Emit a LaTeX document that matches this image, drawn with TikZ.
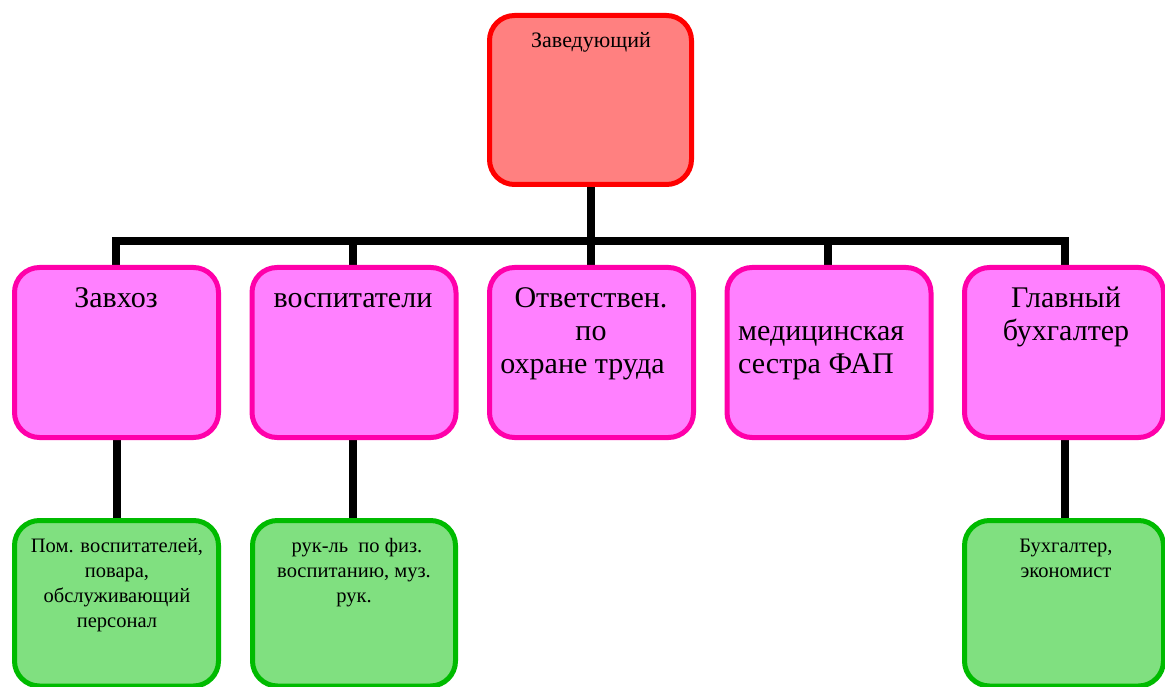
\documentclass[tikz,border=0pt]{standalone}
\usepackage{fontspec}
\setmainfont{Liberation Serif}
\usetikzlibrary{backgrounds}
\definecolor{topfill}{HTML}{FF8080}
\definecolor{topdraw}{HTML}{FF0000}
\definecolor{pinkfill}{HTML}{FF80FF}
\definecolor{pinkdraw}{HTML}{FF00AA}
\definecolor{greenfill}{HTML}{80E080}
\definecolor{greendraw}{HTML}{00BB00}
\tikzset{
  box/.style={rectangle, rounded corners=25pt, line width=5pt, inner sep=0pt, outer sep=0pt},
  topbox/.style={box, draw=topdraw, fill=topfill, minimum width=202pt, minimum height=169pt},
  pinkbox/.style={box, draw=pinkdraw, fill=pinkfill, minimum width=204pt, minimum height=170pt},
  greenbox/.style={box, draw=greendraw, fill=greenfill, minimum width=204pt, minimum height=165.5pt},
  toptxt/.style={inner sep=0pt, anchor=base, font=\fontsize{22}{25}\selectfont},
  pinktxt/.style={inner sep=0pt, anchor=base, align=center, font=\fontsize{30}{33}\selectfont},
  greentxt/.style={inner sep=0pt, anchor=base, align=center, font=\fontsize{20.5}{25}\selectfont},
  conn/.style={line width=8pt, draw=black, line join=miter}
}
\begin{document}
\begin{tikzpicture}[x=1pt, y=-1pt]
\useasboundingbox (0,0) rectangle (1165,687);
% boxes
\node[topbox] (top) at (590.5,100) {};
\node[pinkbox] (p1) at (116.5,352.5) {};
\node[pinkbox] (p2) at (354,352.5) {};
\node[pinkbox] (p3) at (591.5,352.5) {};
\node[pinkbox] (p4) at (829,352.5) {};
\node[pinkbox, minimum width=199pt] (p5) at (1064,352.5) {};
\node[greenbox] (g1) at (116.5,603.25) {};
\node[greenbox, minimum width=203pt] (g2) at (354,603.25) {};
\node[greenbox, minimum width=199pt] (g5) at (1064,603.25) {};
\coordinate (bar) at (0,241);
% texts (base anchor = baseline of the last line)
\node[toptxt] (t0) at (591,48) {Заведующий};
\node[pinktxt] (t1) at (116,307) {Завхоз};
\node[pinktxt] (t2) at (353,307) {воспитатели};
\node[pinktxt] (t3) at (591,373) {Ответствен.\\по\\охране труда\hspace*{17pt}};
\node[pinktxt, anchor=base west, align=left] (t4) at (738,373) {медицинская\\сестра ФАП};
\node[pinktxt] (t5) at (1066,340) {Главный\\бухгалтер};
\node[greentxt] (u1) at (117,627) {Пом. воспитателей,\\повара,\\обслуживающий\\персонал};
\node[greentxt] (u2) at (354,602) {\hspace*{6pt}рук-ль~ по физ.\\воспитанию, муз.\\рук.};
\node[greentxt] (u5) at (1066,577) {Бухгалтер,\\экономист};
% connectors
\begin{pgfonlayer}{background}
\draw[conn] (top.south) -- (top.south |- bar);
\draw[conn] ([xshift=-0.5pt]p1.north) -- ([xshift=-0.5pt]p1.north |- bar) -- ([xshift=1pt]p5.north |- bar) -- ([xshift=1pt]p5.north);
\draw[conn] ([xshift=-1pt]p2.north) -- ([xshift=-1pt]p2.north |- bar);
\draw[conn] ([xshift=-0.5pt]p3.north) -- ([xshift=-0.5pt]p3.north |- bar);
\draw[conn] ([xshift=-1pt]p4.north) -- ([xshift=-1pt]p4.north |- bar);
\draw[conn] (p1.south) -- (g1.north);
\draw[conn] ([xshift=-1pt]p2.south) -- ([xshift=-1pt]g2.north);
\draw[conn] ([xshift=1pt]p5.south) -- ([xshift=1pt]g5.north);
\end{pgfonlayer}
\end{tikzpicture}
\end{document}
